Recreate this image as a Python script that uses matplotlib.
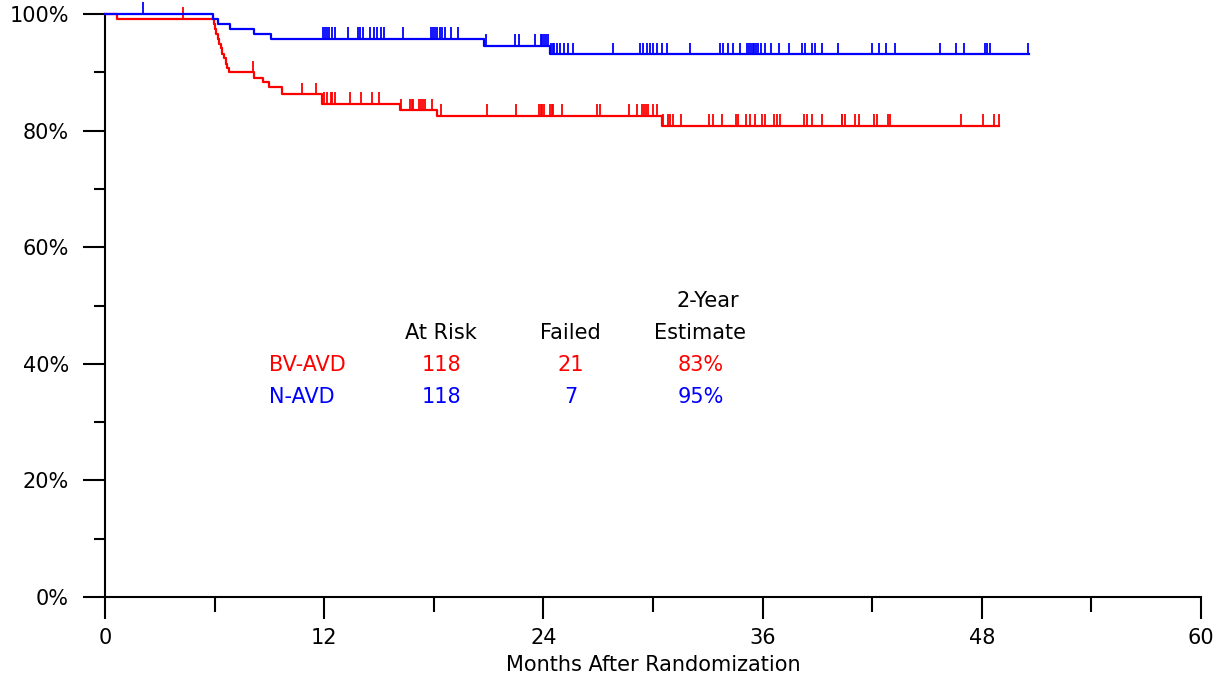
import numpy as np
import matplotlib
matplotlib.use('Agg')
import matplotlib.pyplot as plt
from matplotlib.ticker import MultipleLocator, FuncFormatter

# step curves (months, % event-free)
blue_t = [0, 5.93, 6.2, 6.84, 8.18, 9.07, 20.75, 24.36]
blue_s = [100, 99.15, 98.3, 97.4, 96.6, 95.8, 94.56, 93.1]
blue_end = 50.58

red_t = [0, 0.67, 5.98, 6.04, 6.1, 6.16, 6.24, 6.33, 6.42, 6.51, 6.61, 6.68, 6.77,
         8.18, 8.67, 9.0, 9.67, 11.86, 16.15, 18.2, 30.47]
red_s = [100, 99.15, 98.3, 97.5, 96.6, 95.8, 94.9, 94.1, 93.2, 92.4, 91.5, 90.7, 90.0,
         89.1, 88.3, 87.4, 86.2, 84.6, 83.5, 82.5, 80.8]
red_end = 48.96

# censored times
blue_cens = [2.1, 11.95, 12.05, 12.15, 12.26, 12.44, 12.59, 13.29, 13.83, 13.96, 14.14,
             14.51, 14.74, 14.87, 15.11, 15.29, 16.33, 17.85, 17.95, 18.05, 18.15,
             18.35, 18.45, 18.6, 18.94, 19.3, 20.86, 22.45, 22.68, 23.54, 23.85, 23.95,
             24.05, 24.15, 24.25, 24.4, 24.5, 24.6, 24.75, 24.91, 25.15, 25.37, 25.64,
             27.83, 29.29, 29.47, 29.65, 29.84, 30.02, 30.2, 30.47, 30.75, 32.03, 33.67,
             33.85, 34.09, 34.4, 34.76, 35.15, 35.25, 35.35, 35.45, 35.55, 35.65, 35.75,
             35.91, 36.13, 36.46, 36.9, 37.44, 38.14, 38.32, 38.69, 38.87, 39.23, 40.11,
             41.97, 42.39, 42.76, 43.25, 45.71, 46.59, 47.03, 48.2, 48.3, 48.45, 50.55]
red_cens = [4.29, 8.08, 10.8, 11.53, 12.0, 12.14, 12.35, 12.45, 12.58, 13.41, 14.01,
            14.6, 15.0, 16.2, 16.7, 16.8, 16.88, 17.2, 17.3, 17.4, 17.5, 17.88, 18.39,
            20.93, 22.48, 23.75, 23.85, 23.95, 24.05, 24.35, 24.45, 24.55, 25.0, 26.95,
            27.1, 28.7, 29.11, 29.4, 29.5, 29.6, 29.75, 29.98, 30.2, 30.57, 30.8, 30.95,
            31.1, 31.53, 33.07, 33.3, 33.76, 34.53, 34.67, 35.07, 35.31, 35.58, 35.95,
            36.13, 36.65, 36.8, 36.95, 38.25, 38.45, 38.69, 39.23, 40.36, 40.35, 40.5,
            41.06, 41.29, 42.09, 42.24, 42.85, 42.97, 46.84, 48.05, 48.67, 48.96]

groups = ['BV-AVD', 'N-AVD']
at_risk = [118, 118]
failed = [21, 7]
estimate = ['83%', '95%']

RED = '#ff0000'
BLUE = '#0000ff'

plt.rcParams['font.family'] = ['DejaVu Sans']
fig = plt.figure(figsize=(12.28, 6.81), dpi=100)
ax = fig.add_axes([0.0855, 0.1233, 0.8925, 0.8561])


def draw_curve(t, s, end, cens, color):
    tt = list(t) + [end]
    ss = list(s) + [s[-1]]
    ax.step(tt, ss, where='post', color=color, lw=1.6, clip_on=False, zorder=3)
    idx = np.searchsorted(np.array(t), np.array(cens), side='right') - 1
    lev = np.array(s)[idx]
    ax.vlines(cens, lev, lev + 2.0, color=color, lw=1.3, clip_on=False, zorder=3)


draw_curve(red_t, red_s, red_end, red_cens, RED)
draw_curve(blue_t, blue_s, blue_end, blue_cens, BLUE)

ax.set_xlim(0, 60)
ax.set_ylim(0, 100)
ax.spines['top'].set_visible(False)
ax.spines['right'].set_visible(False)
for sp in ['left', 'bottom']:
    ax.spines[sp].set_linewidth(1.5)

ax.xaxis.set_major_locator(MultipleLocator(12))
ax.xaxis.set_minor_locator(MultipleLocator(6))
ax.yaxis.set_major_locator(MultipleLocator(20))
ax.yaxis.set_minor_locator(MultipleLocator(10))
ax.yaxis.set_major_formatter(FuncFormatter(lambda v, p: f'{int(v)}%'))
ax.tick_params(axis='x', which='major', length=16, width=1.5, pad=6, labelsize=15)
ax.tick_params(axis='x', which='minor', length=11, width=1.5)
ax.tick_params(axis='y', which='major', length=16, width=1.5, pad=10, labelsize=15)
ax.tick_params(axis='y', which='minor', length=8, width=1.5)
ax.set_xlabel('Months After Randomization', fontsize=15, labelpad=5)

# summary table
cols_x = [18.4, 25.5, 32.6]
ax.text(33.0, 50.8, '2-Year', ha='center', va='center', fontsize=15)
ax.text(cols_x[0], 45.3, 'At Risk', ha='center', va='center', fontsize=15)
ax.text(cols_x[1], 45.3, 'Failed', ha='center', va='center', fontsize=15)
ax.text(cols_x[2], 45.3, 'Estimate', ha='center', va='center', fontsize=15)
for i, c in enumerate([RED, BLUE]):
    yy = 39.8 - i * 5.5
    ax.text(9.0, yy, groups[i], ha='left', va='center', fontsize=15, color=c)
    ax.text(cols_x[0], yy, str(at_risk[i]), ha='center', va='center', fontsize=15, color=c)
    ax.text(cols_x[1], yy, str(failed[i]), ha='center', va='center', fontsize=15, color=c)
    ax.text(cols_x[2], yy, estimate[i], ha='center', va='center', fontsize=15, color=c)

fig.savefig('out.png', dpi=100)
